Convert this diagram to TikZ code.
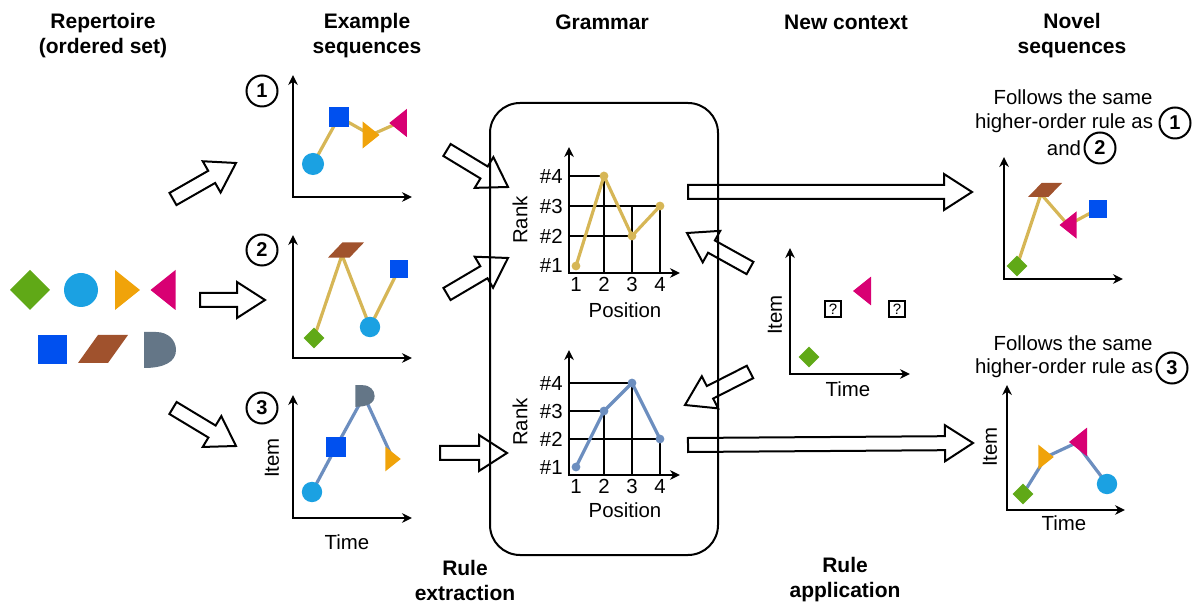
\documentclass[tikz,border=0pt]{standalone}
\usepackage{fontspec}
\setmainfont{Liberation Sans}
\usetikzlibrary{calc,arrows.meta}
\definecolor{cgreen}{HTML}{60A917}
\definecolor{ccyan}{HTML}{1BA1E2}
\definecolor{corange}{HTML}{F0A30A}
\definecolor{cmag}{HTML}{D80073}
\definecolor{cblue}{HTML}{0050EF}
\definecolor{cbrown}{HTML}{A0522D}
\definecolor{cgray}{HTML}{647687}
\definecolor{cgold}{HTML}{D6B656}
\definecolor{cline}{HTML}{6C8EBF}
\tikzset{
  title/.style={font=\fontsize{10.5}{12.5}\selectfont\bfseries, align=center, inner sep=0pt},
  lbl/.style={font=\fontsize{10.2}{12.5}\selectfont, inner sep=0pt, align=center},
  num/.style={circle, draw, line width=1pt, minimum size=15.5pt, inner sep=0pt, font=\fontsize{10}{12}\selectfont\bfseries},
  qbox/.style={draw, line width=0.8pt, minimum size=8pt, inner sep=0pt, font=\fontsize{7.5}{8}\selectfont},
  axes/.style={<->, line width=0.9pt},
  gridl/.style={line width=0.9pt},
  goldl/.style={cgold, line width=1.6pt},
  bluel/.style={cline, line width=1.6pt},
  barrowst/.style={draw, fill=white, line width=1pt, line join=miter},
  boxst/.style={draw, line width=1pt, rounded corners=15pt},
  pics/sdiam/.style={code={\fill[cgreen] (0,-20) -- (20,0) -- (0,20) -- (-20,0) -- cycle;}},
  pics/scirc/.style={code={\fill[ccyan] (0,0) circle[radius=8.5pt];}},
  pics/stri/.style={code={\fill[corange] (-12.5,-20) -- (12.5,0) -- (-12.5,20) -- cycle;}},
  pics/sltri/.style={code={\fill[cmag] (12.5,-20) -- (-12.5,0) -- (12.5,20) -- cycle;}},
  pics/ssq/.style={code={\fill[cblue] (-14.5,-14.5) rectangle (14.5,14.5);}},
  pics/spara/.style={code={\fill[cbrown] (-25,14) -- (5,14) -- (25,-14) -- (-5,-14) -- cycle;}},
  pics/sdee/.style={code={\fill[cgray] (-16,-18) -- (-4,-18) .. controls (8,-18) and (16,-10) .. (16,0) .. controls (16,12) and (4,18) .. (-16,18) -- cycle;}},
}
\newcommand{\barrow}[2]{%
  \coordinate (#1h) at ($(#2)!14pt!(#1)$);
  \draw[barrowst] ($(#1)!3.5pt!90:(#2)$) -- ($(#1)!3.5pt!-90:(#2)$) -- ($(#1h)!3.5pt!90:(#1)$) -- ($(#1h)!9pt!90:(#1)$) -- (#2) -- ($(#1h)!9pt!-90:(#1)$) -- ($(#1h)!3.5pt!-90:(#1)$) -- cycle;}
\begin{document}
\begin{tikzpicture}[x=0.5pt, y=-0.5pt, >={Stealth[length=5pt,width=4.8pt]}]
\useasboundingbox (0,0) rectangle (1193,603);

% titles
\node[title] (t1) at (103,36) {Repertoire\\(ordered set)};
\node[title] (t2) at (367,36) {Example\\sequences};
\node[title] (t3) at (602,22) {Grammar};
\node[title] (t4) at (846,22) {New context};
\node[title] (t5) at (1072,36) {Novel\\sequences};
\node[title] (t6) at (465,580) {Rule\\extraction};
\node[title] (t7) at (845,580) {Rule\\application};

% repertoire
\pic at (30,290) {sdiam};
\pic at (81,290) {scirc};
\pic at (127.5,290) {stri};
\pic at (163,290) {sltri};
\pic at (52,350) {ssq};
\pic at (103,349) {spara};
\pic at (160,350) {sdee};

% block arrows
\coordinate (a1s) at (173,199); \coordinate (a1e) at (236,163);
\coordinate (a2s) at (200,300); \coordinate (a2e) at (265,300);
\coordinate (a3s) at (173,408); \coordinate (a3e) at (236,446);
\coordinate (a4s) at (447,150); \coordinate (a4e) at (508,187);
\coordinate (a5s) at (447,294); \coordinate (a5e) at (508,258);
\coordinate (a6s) at (440,453); \coordinate (a6e) at (507,453);
\coordinate (a7s) at (688,192); \coordinate (a7e) at (972,192);
\coordinate (a8s) at (688,445); \coordinate (a8e) at (973,443);
\coordinate (a9s) at (750,268); \coordinate (a9e) at (687,233);
\coordinate (a10s) at (750,372); \coordinate (a10e) at (685,405);
\barrow{a1s}{a1e}
\barrow{a2s}{a2e}
\barrow{a3s}{a3e}
\barrow{a4s}{a4e}
\barrow{a5s}{a5e}
\barrow{a6s}{a6e}
\barrow{a7s}{a7e}
\barrow{a8s}{a8e}
\barrow{a9s}{a9e}
\barrow{a10s}{a10e}

% grammar box
\draw[boxst] (490,103) rectangle (718,555);

% example 1
\node[num] (n1) at (262,91) {1};
\draw[axes] (293,75) -- (293,197) -- (412,197);
\coordinate (e1a) at (313,164); \coordinate (e1b) at (339,117);
\coordinate (e1c) at (371,135); \coordinate (e1d) at (398,123);
\draw[goldl] (e1a) -- (e1b) -- (e1c) -- (e1d);
\pic[scale=0.65] at (e1a) {scirc};
\pic[scale=0.66] at (e1b) {ssq};
\pic[scale=0.68] at (e1c) {stri};
\pic[scale=0.7] at (e1d) {sltri};

% example 2
\node[num] (n2) at (262,250) {2};
\draw[axes] (293,235) -- (293,358) -- (412,358);
\coordinate (e2a) at (314,338); \coordinate (e2b) at (342,255);
\coordinate (e2c) at (370,327); \coordinate (e2d) at (399,269);
\draw[goldl] (e2a) -- (e2b) -- (e2c) -- (e2d);
\pic[scale=0.52] at (e2a) {sdiam};
\pic[xscale=0.72,yscale=0.54] at (346,250) {spara};
\pic[scale=0.6] at (e2c) {scirc};
\pic[scale=0.62] at (e2d) {ssq};

% example 3
\node[num] (n3) at (262,408) {3};
\draw[axes] (293,395) -- (293,518) -- (412,518);
\node[lbl, rotate=90] (it1) at (272,458) {Item};
\node[lbl] (ti1) at (347,542) {Time};
\coordinate (e3a) at (312,492); \coordinate (e3b) at (336,447);
\coordinate (e3c) at (364,396); \coordinate (e3d) at (393,459);
\draw[bluel] (e3a) -- (e3b) -- (e3c) -- (e3d);
\pic[scale=0.6] at (e3a) {scirc};
\pic[scale=0.66] at (e3b) {ssq};
\pic[scale=0.6] at (365,396) {sdee};
\pic[scale=0.62] at (e3d) {stri};

% grammar top chart
\draw[gridl] (569,176) -- (604,176) -- (604,273);
\draw[gridl] (569,206) -- (660,206) -- (660,273);
\draw[gridl] (569,236) -- (632,236);
\draw[gridl] (632,206) -- (632,273);
\draw[axes] (569,147) -- (569,273) -- (680,273);
\coordinate (g1) at (576,266); \coordinate (g2) at (604,176);
\coordinate (g3) at (632,236); \coordinate (g4) at (660,206);
\draw[goldl] (g1) -- (g2) -- (g3) -- (g4);
\foreach \p in {g1,g2,g3,g4} \fill[cgold] (\p) circle[radius=2.2pt];
\node[lbl, anchor=east] (r14) at (563,176) {\#4};
\node[lbl, anchor=east] (r13) at (563,206) {\#3};
\node[lbl, anchor=east] (r12) at (563,236) {\#2};
\node[lbl, anchor=east] (r11) at (563,265) {\#1};
\node[lbl] (p11) at (576,284) {1};
\node[lbl] (p12) at (604,284) {2};
\node[lbl] (p13) at (632,284) {3};
\node[lbl] (p14) at (660,284) {4};
\node[lbl] (pos1) at (625,310) {Position};
\node[lbl, rotate=90] (rk1) at (520,220) {Rank};

% grammar bottom chart
\draw[gridl] (569,383) -- (632,383) -- (632,475);
\draw[gridl] (569,411) -- (604,411) -- (604,475);
\draw[gridl] (569,439) -- (660,439) -- (660,475);
\draw[axes] (569,350) -- (569,475) -- (680,475);
\coordinate (h1) at (576,467); \coordinate (h2) at (604,411);
\coordinate (h3) at (632,383); \coordinate (h4) at (660,439);
\draw[bluel] (h1) -- (h2) -- (h3) -- (h4);
\foreach \p in {h1,h2,h3,h4} \fill[cline] (\p) circle[radius=2.2pt];
\node[lbl, anchor=east] (r24) at (563,383) {\#4};
\node[lbl, anchor=east] (r23) at (563,411) {\#3};
\node[lbl, anchor=east] (r22) at (563,439) {\#2};
\node[lbl, anchor=east] (r21) at (563,467) {\#1};
\node[lbl] (p21) at (576,486) {1};
\node[lbl] (p22) at (604,486) {2};
\node[lbl] (p23) at (632,486) {3};
\node[lbl] (p24) at (660,486) {4};
\node[lbl] (pos2) at (625,510) {Position};
\node[lbl, rotate=90] (rk2) at (520,422) {Rank};

% new context
\draw[axes] (790,248) -- (790,374) -- (910,374);
\node[lbl, rotate=90] (it2) at (775,315) {Item};
\node[lbl] (ti2) at (848,389) {Time};
\pic[scale=0.52] at (809,357) {sdiam};
\pic[scale=0.72] at (862,291) {sltri};
\node[qbox] (q1) at (833,309) {?};
\node[qbox] (q2) at (897,309) {?};

% novel top
\node[lbl] (f1) at (1073,97) {Follows the same};
\node[lbl] (h1t) at (1064,123) {higher-order rule as};
\node[num] (m1) at (1175,123) {1};
\node[lbl] (and1) at (1064,148) {and};
\node[num] (m2) at (1100,148) {2};
\draw[axes] (1004,157) -- (1004,279) -- (1123,279);
\coordinate (v1a) at (1017,266); \coordinate (v1b) at (1041,194);
\coordinate (v1c) at (1068,225); \coordinate (v1d) at (1098,209);
\draw[goldl] (v1a) -- (v1b) -- (v1c) -- (v1d);
\pic[scale=0.52] at (v1a) {sdiam};
\pic[xscale=0.68,yscale=0.5] at (1045,190) {spara};
\pic[scale=0.68] at (v1c) {sltri};
\pic[scale=0.62] at (v1d) {ssq};

% novel bottom
\node[lbl] (f2) at (1073,343) {Follows the same};
\node[lbl] (h2t) at (1064,368) {higher-order rule as};
\node[num] (m3) at (1172,368) {3};
\draw[axes] (1007,385) -- (1007,510) -- (1125,510);
\node[lbl, rotate=90] (it3) at (990,447) {Item};
\node[lbl] (ti3) at (1064,523) {Time};
\coordinate (v2a) at (1023,494); \coordinate (v2b) at (1046,457);
\coordinate (v2c) at (1076,443); \coordinate (v2d) at (1107,484);
\draw[bluel] (v2a) -- (v2b) -- (v2c) -- (v2d);
\pic[scale=0.52] at (v2a) {sdiam};
\pic[scale=0.62] at (v2b) {stri};
\pic[scale=0.72] at (1078,442) {sltri};
\pic[scale=0.6] at (v2d) {scirc};
\end{tikzpicture}
\end{document}
